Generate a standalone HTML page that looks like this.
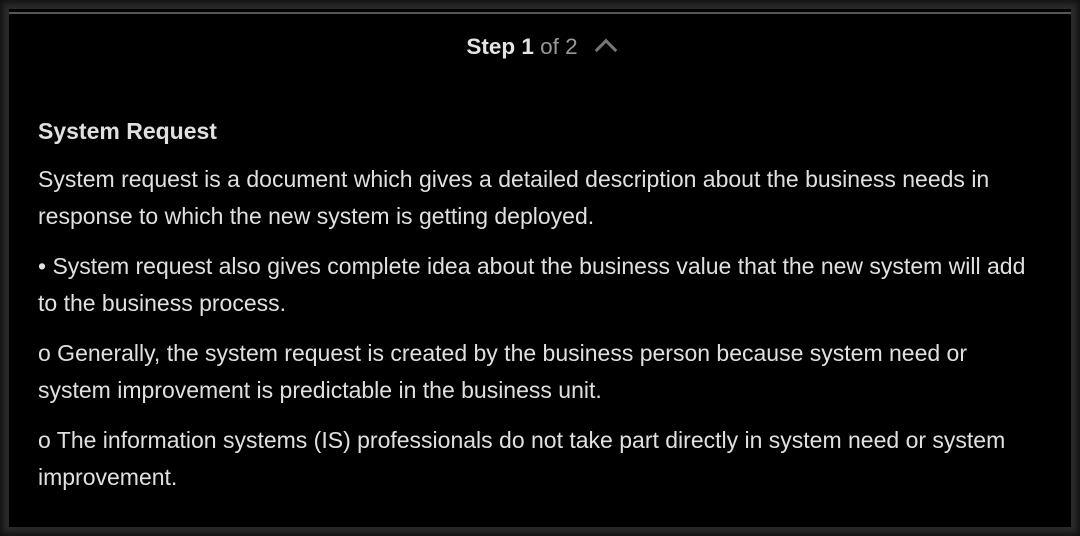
<!DOCTYPE html>
<html><head><style>
html,body{margin:0;padding:0;width:1080px;height:536px;overflow:hidden;background:#3a3a3a;}
.frame{position:absolute;left:0;top:0;width:1080px;height:536px;background:#2a2a2a;box-shadow:inset 0 0 6px 3px #111;}
.box{position:absolute;left:9px;top:9px;width:1062px;height:518px;background:#000;}
.line{position:absolute;left:0;top:3px;width:1062px;height:2px;background:#555;}
.hdr{position:absolute;top:25px;left:0;width:1062px;text-align:center;font:22.5px "Liberation Sans",sans-serif;color:#ddd;}
.hdr b{font-weight:bold;color:#e4e4e4}
.hdr .of{color:#999}
.chev{display:inline-block;width:13px;height:13px;border-left:3px solid #777;border-top:3px solid #777;transform:rotate(45deg);margin-left:20px;position:relative;top:4px;}
.c{position:absolute;left:29px;top:106px;width:1018px;font:23px/37px "Liberation Sans",sans-serif;color:#e0e0e0;}
.c p{margin:0 0 13px 0}
.c h4{margin:0 0 14px 0;font-size:23px;line-height:32px;}
</style></head><body>
<div class="frame"></div>
<div class="box">
<div class="line"></div>
<div class="hdr"><b>Step 1</b> <span class="of">of 2</span><span class="chev"></span></div>
<div class="c">
<h4>System Request</h4>
<p>System request is a document which gives a detailed description about the business needs in<br>response to which the new system is getting deployed.</p>
<p>• System request also gives complete idea about the business value that the new system will add<br>to the business process.</p>
<p>o Generally, the system request is created by the business person because system need or<br>system improvement is predictable in the business unit.</p>
<p>o The information systems (IS) professionals do not take part directly in system need or system<br>improvement.</p>
</div>
</div>
</body></html>
